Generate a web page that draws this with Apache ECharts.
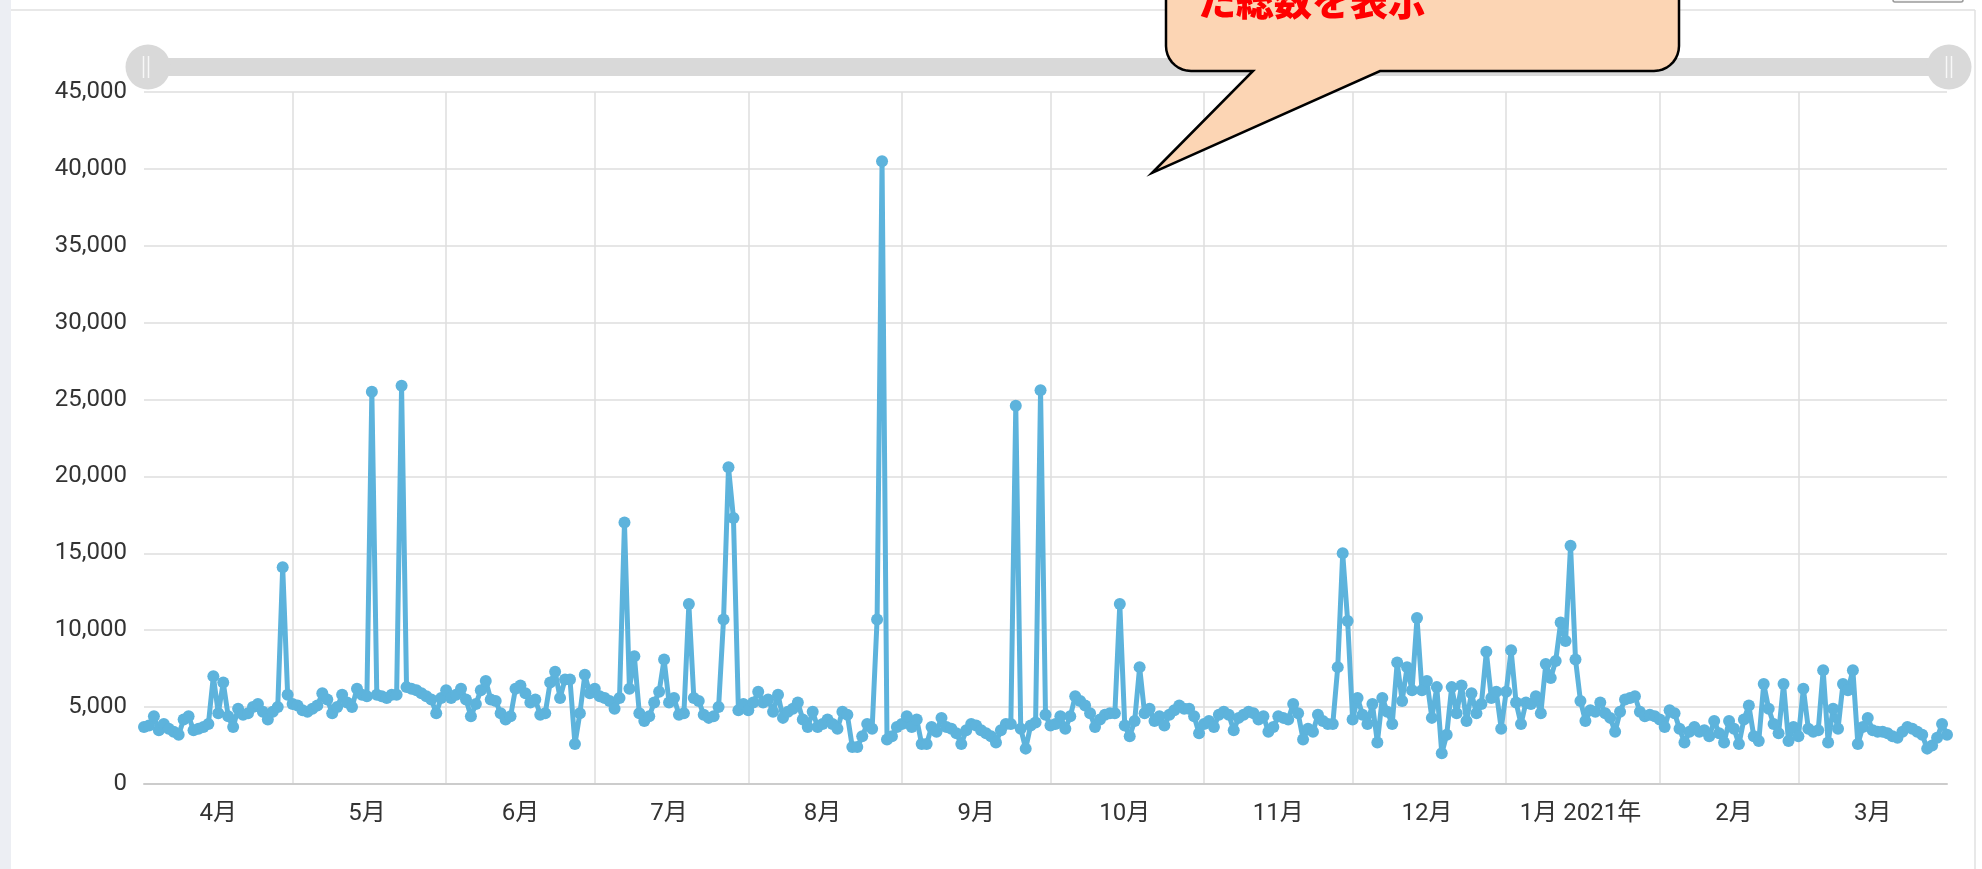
<!DOCTYPE html>
<html>
<head>
<meta charset="utf-8">
<script src="https://cdn.jsdelivr.net/npm/echarts@6/dist/echarts.min.js"></script>
<style>
html,body{margin:0;padding:0;background:#fff;}
#chart{width:1982px;height:869px;}
</style>
</head>
<body>
<div id="chart"></div>
<script>
// Daily values, one array per month (2020-04 .. 2021-03)
const apr2020 = [3700,3800,4400,3500,3900,3600,3400,3200,4200,4400,3500,3600,3700,3900,7000,4600,6600,4400,3700,4900,4500,4600,5000,5200,4700,4200,4700,5000,14100,5800];
const may2020 = [5200,5100,4800,4700,4900,5100,5900,5500,4600,5000,5800,5300,5000,6200,5800,5700,25500,5800,5700,5600,5800,5800,25900,6300,6200,6100,5900,5700,5500,4600,5600];
const jun2020 = [6100,5600,5800,6200,5500,4400,5200,6100,6700,5500,5400,4600,4200,4400,6200,6400,5900,5300,5500,4500,4600,6600,7300,5600,6800,6800,2600,4600,7100,5900];
const jul2020 = [6200,5700,5600,5400,4900,5600,17000,6200,8300,4600,4100,4400,5300,6000,8100,5300,5600,4500,4600,11700,5600,5400,4500,4300,4400,5000,10700,20600,17300,4800,5200];
const aug2020 = [4800,5300,6000,5300,5500,4700,5800,4300,4700,4900,5300,4200,3700,4700,3700,3900,4200,3900,3600,4700,4500,2400,2400,3100,3900,3600,10700,40500,2900,3100,3700];
const sep2020 = [3900,4400,3700,4200,2600,2600,3700,3400,4300,3700,3600,3300,2600,3500,3900,3800,3500,3300,3100,2700,3500,3900,3900,24600,3600,2300,3800,4000,25600,4500];
const oct2020 = [3800,3900,4400,3600,4400,5700,5400,5100,4600,3700,4200,4500,4600,4600,11700,3800,3100,4100,7600,4600,4900,4100,4400,3800,4500,4800,5100,4900,4900,4400,3300];
const nov2020 = [3900,4100,3700,4500,4700,4500,3500,4300,4500,4700,4600,4200,4400,3400,3700,4400,4300,4200,5200,4600,2900,3600,3400,4500,4100,3900,3900,7600,15000,10600];
const dec2020 = [4200,5600,4500,3900,5200,2700,5600,4700,3900,7900,5400,7600,6100,10800,6100,6700,4300,6300,2000,3200,6300,4600,6400,4100,5900,4600,5200,8600,5600,6000,3600];
const jan2021 = [6000,8700,5300,3900,5300,5200,5700,4600,7800,6900,8000,10500,9300,15500,8100,5400,4100,4800,4700,5300,4600,4300,3400,4700,5500,5600,5700,4700,4400,4500,4400];
const feb2021 = [4200,3700,4800,4600,3600,2700,3400,3700,3400,3500,3100,4100,3300,2700,4100,3600,2600,4200,5100,3100,2800,6500,4900,3900,3300,6500,2800,3700];
const mar2021 = [3100,6200,3600,3400,3500,7400,2700,4900,3600,6500,6100,7400,2600,3700,4300,3500,3400,3400,3300,3100,3000,3400,3700,3600,3400,3200,2300,2500,3000,3900,3200];

// x-axis month labels (placed mid-month), y-axis ticks
const monthLabels = ['4月','5月','6月','7月','8月','9月','10月','11月','12月','1月 2021年','2月','3月'];
const yMin = 0, yMax = 45000, yStep = 5000;

const values = [].concat(apr2020, may2020, jun2020, jul2020, aug2020, sep2020, oct2020, nov2020, dec2020, jan2021, feb2021, mar2021);
const seriesData = values.map((v, i) => [new Date(2020, 3, 1 + i).getTime(), v]);
const xMin = new Date(2020, 3, 1).getTime();
const xMax = new Date(2021, 2, 31).getTime();
const monthStarts = [];
for (let k = 1; k < 12; k++) monthStarts.push(new Date(2020, 3 + k, 1).getTime());
const monthMids = [];
for (let k = 0; k < 12; k++) monthMids.push(new Date(2020, 3 + k, 16).getTime());

const lineColor = '#5db3dc';
const fontFam = 'Roboto, "Noto Sans CJK JP", sans-serif';

// callout outline (annotation shape, not data)
function calloutPoints() {
  const L = 1166, R = 1679, B = 71, T = -80, r = 25;
  const pts = [[L, T]];
  for (let a = 180; a >= 90; a -= 10) {
    const t = a * Math.PI / 180;
    pts.push([L + r + r * Math.cos(t), B - r + r * Math.sin(t)]);
  }
  pts.push([1253, B], [1152, 173], [1380, B]);
  for (let a = 90; a >= 0; a -= 10) {
    const t = a * Math.PI / 180;
    pts.push([R - r + r * Math.cos(t), B - r + r * Math.sin(t)]);
  }
  pts.push([R, T]);
  return pts;
}

const chart = echarts.init(document.getElementById('chart'), null, {renderer: 'canvas'});
chart.setOption({
  animation: false,
  backgroundColor: '#ffffff',
  grid: {left: 144, right: 35, top: 92, bottom: 85, containLabel: false},
  xAxis: {
    type: 'value',
    min: xMin,
    max: xMax,
    axisLine: {show: true, lineStyle: {color: '#cccccc', width: 2}},
    axisTick: {show: false, customValues: monthStarts},
    splitLine: {show: true, lineStyle: {color: '#dedede', width: 1.5}},
    axisLabel: {
      customValues: monthMids,
      color: '#333333',
      fontSize: 24,
      fontFamily: fontFam,
      margin: 18,
      formatter: function (val) {
        const d = new Date(val);
        const idx = (d.getFullYear() - 2020) * 12 + d.getMonth() - 3;
        return monthLabels[idx] || '';
      }
    }
  },
  yAxis: {
    type: 'value',
    min: yMin,
    max: yMax,
    interval: yStep,
    axisLine: {show: false},
    axisTick: {show: false},
    splitLine: {show: true, lineStyle: {color: '#dedede', width: 1.5}},
    axisLabel: {
      color: '#333333',
      fontSize: 24,
      fontFamily: fontFam,
      margin: 17,
      formatter: function (v) { return v.toLocaleString('en-US'); }
    }
  },
  dataZoom: [{
    type: 'slider',
    xAxisIndex: 0,
    start: 0,
    end: 100,
    filterMode: 'none',
    left: 146,
    right: 33,
    top: 58,
    height: 18,
    showDetail: false,
    showDataShadow: false,
    brushSelect: false,
    zoomLock: true,
    backgroundColor: 'rgba(0,0,0,0)',
    borderColor: 'rgba(0,0,0,0)',
    fillerColor: '#d9d9d9',
    handleIcon: 'path://M50,0A50,50,0,1,1,50,100A50,50,0,1,1,50,0Z',
    handleSize: '250%',
    handleStyle: {color: '#d9d9d9', borderColor: '#d9d9d9', borderWidth: 0},
    moveHandleSize: 0,
    dataBackground: {lineStyle: {opacity: 0}, areaStyle: {opacity: 0}},
    selectedDataBackground: {lineStyle: {opacity: 0}, areaStyle: {opacity: 0}}
  }],
  series: [{
    type: 'line',
    data: seriesData,
    symbol: 'circle',
    symbolSize: 12,
    showAllSymbol: true,
    lineStyle: {color: lineColor, width: 5},
    itemStyle: {color: lineColor}
  }],
  graphic: [
    {type: 'rect', z: 100, shape: {x: 0, y: 0, width: 11, height: 869}, style: {fill: '#eceef3'}},
    {type: 'line', z: 100, shape: {x1: 11, y1: 10, x2: 1975, y2: 10}, style: {stroke: '#e0e0e0', lineWidth: 1.5}},
    {type: 'line', z: 100, shape: {x1: 1975, y1: 10, x2: 1975, y2: 869}, style: {stroke: '#e0e0e0', lineWidth: 1.5}},
    {type: 'rect', z: 100, shape: {x: 1893, y: -20, width: 70, height: 22, r: 2}, style: {fill: '#f5f5f5', stroke: '#9a9a9a', lineWidth: 1.5}},
    // slider handle grips
    {type: 'line', z: 100, shape: {x1: 143.5, y1: 56, x2: 143.5, y2: 78}, style: {stroke: 'rgba(255,255,255,0.8)', lineWidth: 1.5}},
    {type: 'line', z: 100, shape: {x1: 148.5, y1: 56, x2: 148.5, y2: 78}, style: {stroke: 'rgba(255,255,255,0.8)', lineWidth: 1.5}},
    {type: 'line', z: 100, shape: {x1: 1946.5, y1: 56, x2: 1946.5, y2: 78}, style: {stroke: 'rgba(255,255,255,0.8)', lineWidth: 1.5}},
    {type: 'line', z: 100, shape: {x1: 1951.5, y1: 56, x2: 1951.5, y2: 78}, style: {stroke: 'rgba(255,255,255,0.8)', lineWidth: 1.5}},
    // callout bubble
    {type: 'polygon', z: 110, shape: {points: calloutPoints()},
      style: {fill: '#fcd5b4', stroke: '#000000', lineWidth: 2.5, lineJoin: 'miter'}},
    {type: 'text', z: 120, x: 1198, y: 1,
      style: {text: 'た総数を表示', fill: '#ff0000', font: '900 38px "Noto Sans CJK JP", sans-serif', textAlign: 'left', textVerticalAlign: 'middle'}}
  ]
});
</script>
</body>
</html>
